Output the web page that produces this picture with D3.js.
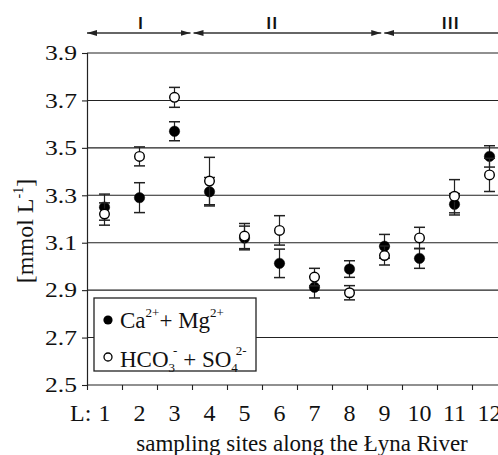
<!DOCTYPE html>
<html>
<head>
<meta charset="utf-8">
<script src="https://cdn.jsdelivr.net/npm/d3@7"></script>
<style>
  html, body { margin: 0; padding: 0; background: #fff; }
  svg { display: block; }
  text { font-family: "Liberation Serif", "Times New Roman", serif; fill: #111; }
</style>
</head>
<body>
<svg id="chart" width="498" height="455"></svg>
<script>
// Sampling sites along the river
const sites = [1, 2, 3, 4, 5, 6, 7, 8, 9, 10, 11, 12];

// Ca2+ + Mg2+ means and error half-widths [mmol/L]
const caMg    = [3.250, 3.290, 3.570, 3.315, 3.120, 3.013, 2.912, 2.989, 3.085, 3.034, 3.262, 3.464];
const caMgErr = [0.055, 0.063, 0.040, 0.060, 0.050, 0.060, 0.045, 0.035, 0.050, 0.042, 0.045, 0.045];

// HCO3- + SO4 2- means and error half-widths [mmol/L]
const hcoSo    = [3.221, 3.464, 3.713, 3.360, 3.128, 3.152, 2.955, 2.889, 3.046, 3.120, 3.296, 3.386];
const hcoSoErr = [0.047, 0.040, 0.042, 0.100, 0.053, 0.062, 0.037, 0.030, 0.040, 0.045, 0.070, 0.070];

// Y ticks
const yTicks = [2.5, 2.7, 2.9, 3.1, 3.3, 3.5, 3.7, 3.9];

// River sections (in site units)
const sectionNames = ["I", "II", "III"];
const sectionStart = [0.5, 3.5, 8.95];
const sectionEnd   = [3.5, 8.95, 13.5];
const sectionLabelAt = [2.05, 5.8, 10.9];

const svg = d3.select("#chart");

const x = d3.scaleLinear().domain([0.5, 12.5]).range([87, 507]);
const y = d3.scaleLinear().domain([2.5, 3.9]).range([385, 53]);

// Horizontal grid lines
svg.append("g")
  .selectAll("line")
  .data(yTicks.filter(v => v > 2.5))
  .join("line")
  .attr("x1", x(0.5)).attr("x2", 498)
  .attr("y1", d => y(d)).attr("y2", d => y(d))
  .attr("stroke", "#222").attr("stroke-width", 1.1);

// Y axis
const yAxis = svg.append("g")
  .attr("transform", `translate(${x(0.5)},0)`)
  .call(d3.axisLeft(y).tickValues(yTicks).tickFormat(d3.format(".1f")).tickSize(5).tickPadding(5));
yAxis.select(".domain").attr("stroke", "#222").attr("stroke-width", 1.2);
yAxis.selectAll(".tick line").attr("stroke", "#222").attr("stroke-width", 1.1);
yAxis.selectAll(".tick text")
  .attr("font-size", 21)
  .attr("fill", "#111")
  .attr("textLength", 32)
  .attr("lengthAdjust", "spacingAndGlyphs");

// X axis: ticks at the boundaries between sites
const bounds = d3.range(0.5, 13, 1);
const xAxis = svg.append("g")
  .attr("transform", `translate(0,${y(2.5)})`)
  .call(d3.axisBottom(x).tickValues(bounds).tickFormat("").tickSize(5).tickSizeOuter(0));
xAxis.select(".domain").attr("stroke", "#222").attr("stroke-width", 1.2).attr("d", `M${x(0.5)},0H498`);
xAxis.selectAll(".tick line").attr("stroke", "#222").attr("stroke-width", 1.1);

// Site labels
svg.append("g")
  .selectAll("text")
  .data(sites)
  .join("text")
  .attr("x", d => x(d))
  .attr("y", 421)
  .attr("text-anchor", "middle")
  .attr("font-size", 24)
  .text(d => d);
svg.append("text")
  .attr("x", 70).attr("y", 421)
  .attr("font-size", 24)
  .text("L:");

svg.append("text")
  .attr("x", 302).attr("y", 451)
  .attr("text-anchor", "middle")
  .attr("font-size", 23)
  .text("sampling sites along the Łyna River");

// Y axis title
const yt = svg.append("text")
  .attr("transform", "translate(33,231) rotate(-90)")
  .attr("text-anchor", "middle")
  .attr("font-size", 24);
yt.append("tspan").text("[mmol L");
yt.append("tspan").attr("font-size", 14).attr("dy", -10).text("-1");
yt.append("tspan").attr("dy", 10).text("]");

// Section arrows at the top
const arrowY = 33;
const defs = svg.append("defs");
defs.append("marker")
  .attr("id", "ahead")
  .attr("viewBox", "0 0 10 6")
  .attr("refX", 10).attr("refY", 3)
  .attr("markerWidth", 10).attr("markerHeight", 6)
  .attr("markerUnits", "userSpaceOnUse")
  .attr("orient", "auto-start-reverse")
  .append("path").attr("d", "M0,0L10,3L0,6Z").attr("fill", "#222");

sectionNames.forEach((name, i) => {
  const a = x(sectionStart[i]) + (i === 0 ? 0 : 1.5);
  const b = x(sectionEnd[i]) - 1.5;
  svg.append("line")
    .attr("x1", a).attr("x2", b)
    .attr("y1", arrowY).attr("y2", arrowY)
    .attr("stroke", "#333").attr("stroke-width", 1.4)
    .attr("marker-start", "url(#ahead)")
    .attr("marker-end", "url(#ahead)");
  svg.append("text")
    .attr("x", x(sectionLabelAt[i]))
    .attr("y", 29)
    .attr("text-anchor", "middle")
    .attr("font-weight", "bold")
    .attr("font-size", 16)
    .attr("letter-spacing", 1.5)
    .style("font-family", "'Liberation Sans', Arial, sans-serif")
    .text(name);
});

// Error bars + points
function drawSeries(values, errs, filled) {
  const g = svg.append("g");
  const rows = sites.map((s, i) => ({ s, v: values[i], e: errs[i] }));
  const capW = 5.5;
  g.selectAll("line.stem").data(rows).join("line")
    .attr("class", "stem")
    .attr("x1", d => x(d.s)).attr("x2", d => x(d.s))
    .attr("y1", d => y(d.v + d.e)).attr("y2", d => y(d.v - d.e))
    .attr("stroke", "#222").attr("stroke-width", 1.2);
  g.selectAll("line.capTop").data(rows).join("line")
    .attr("class", "capTop")
    .attr("x1", d => x(d.s) - capW).attr("x2", d => x(d.s) + capW)
    .attr("y1", d => y(d.v + d.e)).attr("y2", d => y(d.v + d.e))
    .attr("stroke", "#222").attr("stroke-width", 1.5);
  g.selectAll("line.capBot").data(rows).join("line")
    .attr("class", "capBot")
    .attr("x1", d => x(d.s) - capW).attr("x2", d => x(d.s) + capW)
    .attr("y1", d => y(d.v - d.e)).attr("y2", d => y(d.v - d.e))
    .attr("stroke", "#222").attr("stroke-width", 1.5);
  g.selectAll("circle").data(rows).join("circle")
    .attr("cx", d => x(d.s)).attr("cy", d => y(d.v))
    .attr("r", filled ? 5.2 : 4.8)
    .attr("fill", filled ? "#000" : "#fff")
    .attr("stroke", "#000").attr("stroke-width", filled ? 0.5 : 1.4);
}
drawSeries(caMg, caMgErr, true);
drawSeries(hcoSo, hcoSoErr, false);

// Legend
const lg = svg.append("g");
lg.append("rect")
  .attr("x", 94).attr("y", 298).attr("width", 162).attr("height", 73)
  .attr("fill", "#fff").attr("stroke", "#222").attr("stroke-width", 1.3);
lg.append("circle").attr("cx", 108).attr("cy", 320).attr("r", 4.6).attr("fill", "#000");
lg.append("circle").attr("cx", 108).attr("cy", 357).attr("r", 4).attr("fill", "#fff")
  .attr("stroke", "#000").attr("stroke-width", 1.3);

const t1 = lg.append("text").attr("x", 120).attr("y", 328).attr("font-size", 23);
t1.append("tspan").text("Ca");
t1.append("tspan").attr("font-size", 13).attr("dy", -11).text("2+");
t1.append("tspan").attr("dy", 11).text("+ Mg");
t1.append("tspan").attr("font-size", 13).attr("dy", -11).text("2+");

const t2 = lg.append("text").attr("x", 120).attr("y", 366.5).attr("font-size", 23);
t2.append("tspan").text("HCO");
t2.append("tspan").attr("font-size", 13).attr("dy", 5).text("3");
t2.append("tspan").attr("font-size", 13).attr("dx", -2).attr("dy", -17).text("-");
t2.append("tspan").attr("dy", 12).text(" + SO");
t2.append("tspan").attr("font-size", 13).attr("dy", 5).text("4");
t2.append("tspan").attr("font-size", 13).attr("dx", -2).attr("dy", -17).text("2-");
</script>
</body>
</html>
